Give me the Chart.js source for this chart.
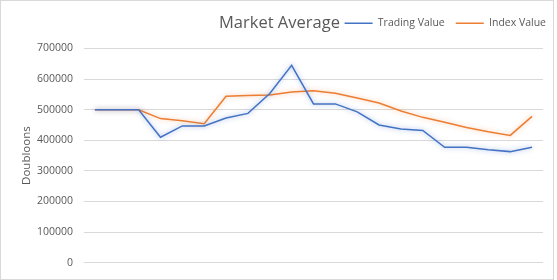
<!DOCTYPE html>
<html>
<head>
<meta charset="utf-8">
<script src="https://cdn.jsdelivr.net/npm/chart.js@4.4.1/dist/chart.umd.min.js"></script>
<style>
  html, body { margin: 0; padding: 0; background: #fff; }
  #wrap { position: relative; width: 557px; height: 280px; }
  #frame { position: absolute; left: 0; top: 0; width: 552px; height: 278px; border: 1px solid #d9d9d9; }
  #title { position: absolute; left: 219px; top: 10px; font: 16.5px "Open Sans", sans-serif; color: #595959; white-space: nowrap; }
  canvas { position: absolute; left: 0; top: 0; }
</style>
</head>
<body>
<div id="wrap">
  <div id="frame"></div>
  <canvas id="lineChart" width="557" height="280"></canvas>
  <div id="title">Market Average</div>
</div>
<script>
// Data
const categories = ['', '', '', '', '', '', '', '', '', '', '', '', '', '', '', '', '', '', '', '', ''];
const tradingValue = [500000, 500000, 500000, 410000, 447000, 447000, 473000, 488000, 553000, 645000, 519000,
    519000, 493000, 450000, 437000, 432000, 377000, 377000, 369000, 363000, 377000];
const indexValue = [500000, 500000, 500000, 471000, 464000, 454000, 544000, 546000, 548000, 558000, 562000,
    554000, 538000, 522000, 496000, 475000, 459000, 442000, 428000, 416000, 478000];
const yTicks = [0, 100000, 200000, 300000, 400000, 500000, 600000, 700000];

// soft glow under each line, like the spreadsheet export
const glow = {
    id: 'glow',
    beforeDatasetDraw(chart, args) {
        const ctx = chart.ctx;
        ctx.save();
        ctx.shadowColor = args.index === 0 ? 'rgba(68,114,196,0.55)' : 'rgba(237,125,49,0.45)';
        ctx.shadowBlur = 5;
    },
    afterDatasetDraw(chart) {
        chart.ctx.restore();
    }
};

// a bit more room under the legend before the plot starts
const legendGap = {
    id: 'legendGap',
    beforeInit(chart) {
        const fit = chart.legend.fit;
        chart.legend.fit = function () {
            fit.call(this);
            this.height += 10;
        };
    }
};

const ctx = document.getElementById('lineChart').getContext('2d');
new Chart(ctx, {
    type: 'line',
    data: {
        labels: categories,
        datasets: [{
            label: 'Trading Value',
            data: tradingValue,
            borderColor: '#4472c4',
            borderWidth: 1.5,
            pointRadius: 0,
            tension: 0,
        }, {
            label: 'Index Value',
            data: indexValue,
            borderColor: '#ed7d31',
            borderWidth: 1.5,
            pointRadius: 0,
            tension: 0,
        }]
    },
    options: {
        responsive: false,
        animation: false,
        layout: {
            padding: { left: 0, right: 0, top: 7, bottom: 13 }
        },
        plugins: {
            legend: {
                display: true,
                position: 'top',
                align: 'end',
                labels: {
                    usePointStyle: true,
                    pointStyle: 'line',
                    pointStyleWidth: 28,
                    boxHeight: 10,
                    color: '#595959',
                    font: { family: 'Open Sans', size: 10.5 },
                    padding: 11,
                },
            },
            tooltip: { enabled: false },
        },
        scales: {
            x: {
                display: false,
                offset: true,
            },
            y: {
                min: 0,
                max: 700000,
                afterBuildTicks(axis) {
                    axis.ticks = yTicks.map(v => ({ value: v }));
                },
                afterFit(axis) {
                    axis.width = 84;
                },
                border: { display: false },
                grid: { color: '#d9d9d9', drawTicks: false },
                ticks: {
                    padding: 11,
                    color: '#595959',
                    font: { family: 'Open Sans', size: 10.5 },
                    callback: v => String(v),
                },
                title: {
                    display: true,
                    text: 'Doubloons',
                    color: '#595959',
                    font: { family: 'Open Sans', size: 11.5 },
                    padding: { top: 20, bottom: 2 },
                },
            },
            // empty strip on the right so the plot stops where the reference does
            yRight: {
                position: 'right',
                display: true,
                afterFit(axis) {
                    axis.width = 14;
                },
                border: { display: false },
                grid: { display: false },
                ticks: { display: false },
            }
        }
    },
    plugins: [glow, legendGap]
});
</script>
</body>
</html>
